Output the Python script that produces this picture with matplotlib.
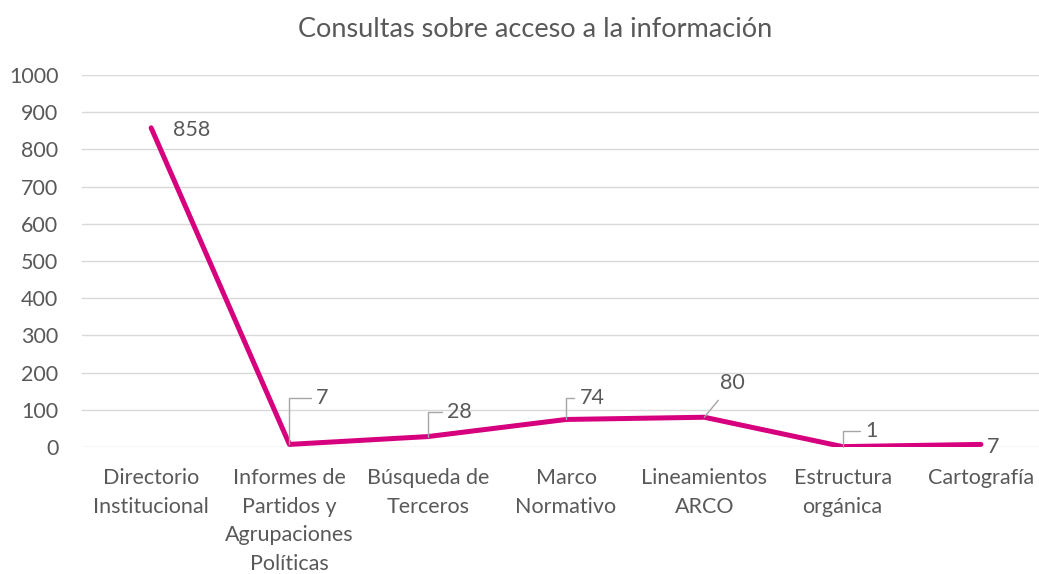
import matplotlib.pyplot as plt

plt.rcParams['font.family'] = ['Lato', 'DejaVu Sans']

# data
categorias = ['Directorio\nInstitucional', 'Informes de\nPartidos y\nAgrupaciones\nPolíticas',
              'Búsqueda de\nTerceros', 'Marco\nNormativo', 'Lineamientos\nARCO',
              'Estructura\norgánica', 'Cartografía']
consultas = [858, 7, 28, 74, 80, 1, 7]

# label offsets (pixels) and leader style per point
offsets = [(40, -2), (33, 46), (32, 25), (26, 21), (28, 34), (29, 16), (12, -3)]
leader = [None, 'angle', 'angle', 'angle', 'line', 'angle', None]

gris = '#595959'
magenta = '#D6007F'

fig = plt.figure(figsize=(10.39, 5.74), dpi=100)
ax = fig.add_axes([82 / 1039, 127 / 574, 1 - 82 / 1039, 372 / 574])

x = list(range(len(categorias)))
ax.plot(x, consultas, color=magenta, linewidth=3.6, solid_capstyle='round', zorder=3)

for i, v in enumerate(consultas):
    props = None
    if leader[i] == 'angle':
        props = dict(arrowstyle='-', color='#a6a6a6', lw=1,
                     connectionstyle='angle,angleA=0,angleB=90,rad=0',
                     shrinkA=2, shrinkB=0)
    elif leader[i] == 'line':
        props = dict(arrowstyle='-', color='#a6a6a6', lw=1, shrinkA=4, shrinkB=0)
    ax.annotate(str(v), xy=(i, v), xytext=offsets[i], textcoords='offset pixels',
                ha='center', va='center', fontsize=15.5, color=gris,
                arrowprops=props, zorder=4)

ax.set_xlim(-0.5, 6.42)
ax.set_ylim(0, 1000)
ax.set_yticks(range(0, 1001, 100))
ax.set_xticks(x)
ax.set_xticklabels(categorias, fontsize=15.5, color=gris, linespacing=1.55)
ax.tick_params(axis='y', labelsize=15.5, labelcolor=gris, length=0, pad=17)
ax.tick_params(axis='x', length=0, pad=15)
ax.grid(axis='y', color='#d9d9d9', linewidth=1)
ax.set_axisbelow(True)
for s in ax.spines.values():
    s.set_visible(False)

fig.text(0.515, 0.948, 'Consultas sobre acceso a la información', ha='center', va='center',
         fontsize=19.5, color=gris)

fig.savefig('out.png', dpi=100)
